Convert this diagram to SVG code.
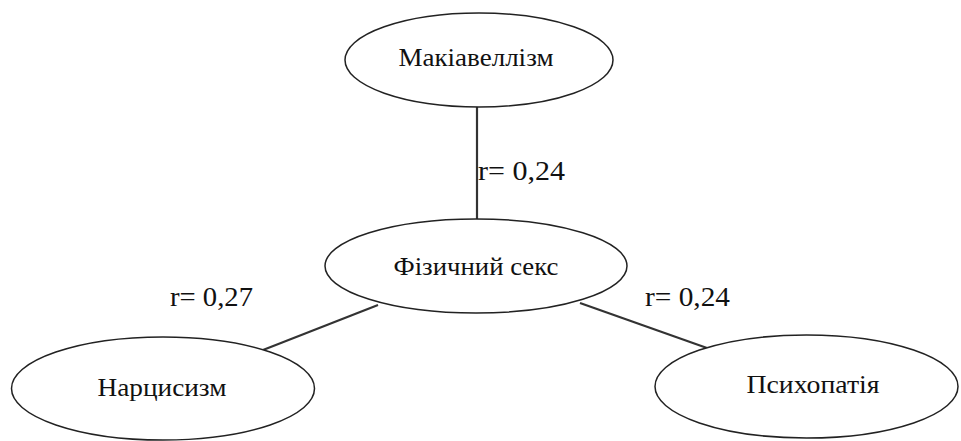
<svg xmlns="http://www.w3.org/2000/svg" width="961" height="441" viewBox="0 0 961 441">
<style>
.node ellipse{fill:#fff;stroke:#222;stroke-width:1.5}
.t{font-family:"Liberation Serif","Times New Roman",serif;font-size:26px;fill:#111;text-anchor:middle}
.lbl{font-family:"Liberation Serif","Times New Roman",serif;font-size:28px;fill:#111}
.conn line{stroke:#333;stroke-width:2.2}
</style>
<rect width="961" height="441" fill="#fff"/>
<g id="connectors" class="conn">
<line x1="477" y1="106" x2="477" y2="219"/>
<line x1="378" y1="305" x2="263" y2="350"/>
<line x1="580" y1="303" x2="707" y2="348"/>
</g>
<g id="n-mak" class="node"><ellipse cx="479" cy="60" rx="134" ry="47"/><text class="t" x="476" y="66" textLength="155" lengthAdjust="spacingAndGlyphs">Макіавеллізм</text></g>
<g id="n-fiz" class="node"><ellipse cx="476" cy="266" rx="151" ry="47"/><text class="t" x="476" y="275" textLength="165" lengthAdjust="spacingAndGlyphs">Фізичний секс</text></g>
<g id="n-nar" class="node"><ellipse cx="163" cy="388.5" rx="151.5" ry="51.5"/><text class="t" x="162" y="396" textLength="129" lengthAdjust="spacingAndGlyphs">Нарцисизм</text></g>
<g id="n-psy" class="node"><ellipse cx="806.5" cy="386.5" rx="151.5" ry="51.5"/><text class="t" x="813" y="393" textLength="133" lengthAdjust="spacingAndGlyphs">Психопатія</text></g>
<g id="labels">
<text class="lbl" x="478" y="180" textLength="87" lengthAdjust="spacingAndGlyphs">r= 0,24</text>
<text class="lbl" x="170" y="306" textLength="83" lengthAdjust="spacingAndGlyphs">r= 0,27</text>
<text class="lbl" x="645" y="306" textLength="85" lengthAdjust="spacingAndGlyphs">r= 0,24</text>
</g>
</svg>
